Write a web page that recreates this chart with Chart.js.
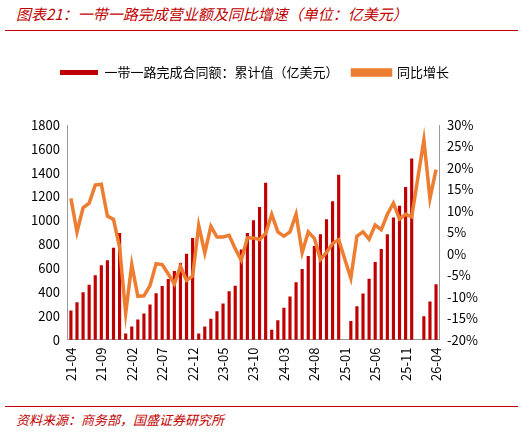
<!DOCTYPE html>
<html>
<head>
<meta charset="utf-8">
<script src="https://cdn.jsdelivr.net/npm/chart.js@4"></script>
<style>
  body { margin:0; width:526px; height:437px; background:#fff; font-family:"Noto Sans CJK SC",sans-serif; position:relative; overflow:hidden; }
  .title { position:absolute; left:16px; top:3px; color:#c00000; font-style:italic; font-size:15px; }
  .rule { position:absolute; left:5px; right:8px; top:30px; border-top:1px solid #c00000; }
  .foot { position:absolute; left:16px; top:410px; color:#c00000; font-style:italic; font-size:13px; }
  .footrule { position:absolute; left:5px; right:8px; top:406px; border-top:1px solid #c00000; }
  #wrap { position:absolute; left:0; top:52px; width:526px; height:332px; }
</style>
</head>
<body>
<div class="title">图表21：一带一路完成营业额及同比增速（单位：亿美元）</div>
<div class="rule"></div>
<div id="wrap"><canvas id="myChart"></canvas></div>
<div class="footrule"></div>
<div class="foot">资料来源：商务部，国盛证券研究所</div>
<script>
// months 21-04 .. 26-04
let labels = [];
for (let y = 21; y <= 26; y++) {
  for (let m = 1; m <= 12; m++) {
    if (y == 21 && m < 4) continue;
    if (y == 26 && m > 4) continue;
    labels.push(y + '-' + (m < 10 ? '0' + m : m));
  }
}

let amount = [
  241, 311, 395, 457, 538, 620, 662, 768, 891,
  48, 107, 166, 216, 292, 387, 446, 505, 572, 639, 718, 849,
  48, 107, 173, 235, 300, 402, 450, 754, 891, 998, 1110, 1312,
  81, 160, 264, 359, 479, 589, 698, 782, 880, 1006, 1158, 1379,
  null, 154, 277, 384, 508, 648, 757, 880, 1021, 1119, 1278, 1517,
  null, 193, 317, 462
];

let growth = [
  12.9, 5.1, 10.7, 11.8, 16.0, 16.2, 8.8, 8.0, 1.5,
  -13.9, -2.5, -9.9, -9.8, -7.4, -2.3, -2.5, -4.7, -7.0, -2.9, -6.2, -5.2,
  6.6, 0.2, 6.4, 3.9, 3.9, 4.3, 1.2, -1.5, 3.7, 3.7, 3.3, 4.7,
  9.2, 5.1, 4.1, 5.1, 9.2, 0.3, 5.1, 3.6, -1.3, 0.3, 2.4, 3.3,
  null, -5.7, 4.1, 5.1, 3.4, 6.7, 5.6, 9.2, 11.8, 8.1, 9.2, 8.6,
  null, 26.5, 12.9, 19.6
];

let ctx = document.getElementById('myChart').getContext('2d');
Chart.defaults.font.family = '"Noto Sans CJK SC", sans-serif';
Chart.defaults.color = '#000';

// extra room under the legend
let legendGap = {
  id: 'legendGap',
  beforeInit(chart) {
    let f = chart.legend.fit;
    chart.legend.fit = function () { f.bind(this)(); this.height += 36; };
  }
};

let myChart = new Chart(ctx, {
  type: 'bar',
  plugins: [legendGap],
  data: {
    labels: labels,
    datasets: [
      {
        type: 'line',
        label: '同比增长',
        data: growth,
        yAxisID: 'y2',
        borderColor: '#ED7D31',
        backgroundColor: '#ED7D31',
        borderWidth: 3.5,
        pointRadius: 0,
        spanGaps: true,
        tension: 0,
        order: 0
      },
      {
        label: '一带一路完成合同额：累计值（亿美元）',
        data: amount,
        yAxisID: 'y',
        backgroundColor: '#c00000',
        barThickness: 2.5,
        order: 1
      }
    ]
  },
  options: {
    responsive: true,
    maintainAspectRatio: false,
    animation: false,
    layout: { padding: { left: 28, right: 45, top: 0, bottom: 0 } },
    plugins: {
      legend: {
        reverse: true,
        labels: { boxWidth: 38, boxHeight: 5, font: { size: 13 }, padding: 14 }
      },
      tooltip: { enabled: false }
    },
    scales: {
      x: {
        grid: { display: false, drawTicks: true, tickLength: 5, color: '#999' },
        border: { color: '#999' },
        ticks: {
          autoSkip: false,
          maxRotation: 90,
          minRotation: 90,
          font: { size: 13 },
          callback: function (v, i) { return i % 5 == 0 ? labels[i] : ''; }
        }
      },
      y: {
        position: 'left',
        min: 0, max: 1800,
        ticks: { stepSize: 200, font: { size: 13 }, callback: v => String(v) },
        grid: { display: false, tickLength: 5, color: '#999' },
        border: { color: '#999' }
      },
      y2: {
        position: 'right',
        min: -20, max: 30,
        ticks: { stepSize: 5, font: { size: 13 }, callback: v => v + '%' },
        grid: { display: false, tickLength: 5, color: '#999' },
        border: { color: '#999' }
      }
    }
  }
});
</script>
</body>
</html>
